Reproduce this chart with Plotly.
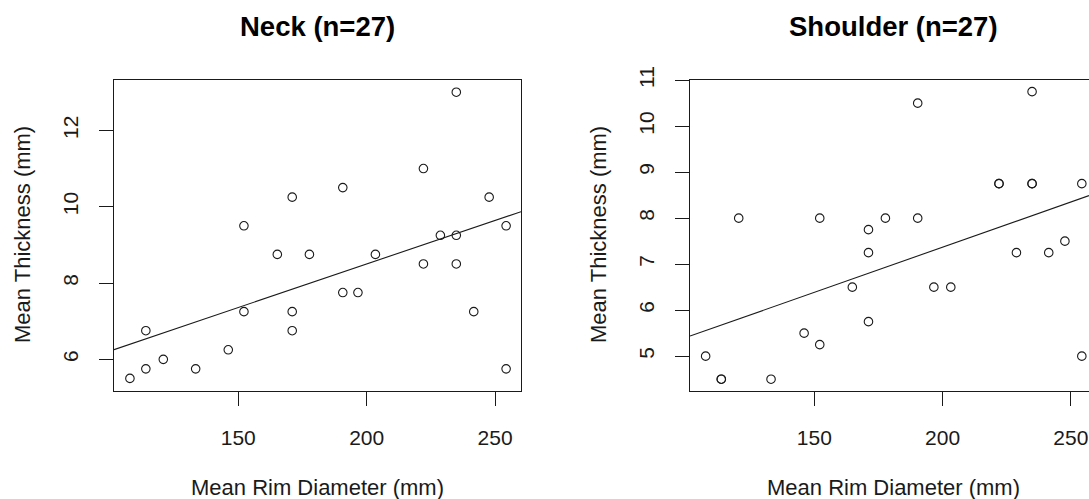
import plotly.graph_objects as go

# ---- data ----
neck_x = [107.8, 114.0, 114.0, 120.8, 133.4, 146.1, 152.2, 152.2, 165.2, 171.0, 171.0, 171.0,
          177.7, 190.7, 190.7, 196.6, 203.4, 222.1, 222.1, 228.7, 234.9, 234.9, 234.9,
          241.7, 247.7, 254.3, 254.3]
neck_y = [5.5, 5.75, 6.75, 6.0, 5.75, 6.25, 9.5, 7.25, 8.75, 10.25, 7.25, 6.75,
          8.75, 10.5, 7.75, 7.75, 8.75, 11.0, 8.5, 9.25, 9.25, 8.5, 13.0,
          7.25, 10.25, 9.5, 5.75]

shoulder_x = [107.6, 113.7, 113.7, 120.5, 133.1, 146.0, 152.1, 152.1, 164.8, 171.1, 171.1, 171.1,
              177.7, 190.3, 190.3, 196.6, 203.2, 222.0, 222.0, 228.8, 234.9, 234.9, 234.9,
              241.4, 247.7, 254.3, 254.3]
shoulder_y = [5.0, 4.5, 4.5, 8.0, 4.5, 5.5, 5.25, 8.0, 6.5, 7.75, 7.25, 5.75,
              8.0, 10.5, 8.0, 6.5, 6.5, 8.75, 8.75, 7.25, 10.75, 8.75, 8.75,
              7.25, 7.5, 8.75, 5.0]

# fitted regression lines (intercept, slope)
neck_fit = [3.937, 0.02281]
shoulder_fit = [3.445, 0.01962]

panel_titles = ["Neck (n=27)", "Shoulder (n=27)"]
x_label = "Mean Rim Diameter (mm)"
y_label = "Mean Thickness (mm)"
x_ticks = [150, 200, 250]
neck_y_ticks = [6, 8, 10, 12]
shoulder_y_ticks = [5, 6, 7, 8, 9, 10, 11]

# ---- layout geometry ----
W, H = 1089, 499
FONT = "Liberation Sans, Arial, sans-serif"
INK = "#1a1a1a"

left_xdom = [114 / W, 521 / W]
right_xdom = [690 / W, 1.0]
ydom = [1 - 391 / H, 1 - 80 / H]

left_xrange = [101.6, 260.1]
left_yrange = [5.17, 13.32]
right_xrange = [101.5, 257.1]
right_yrange = [4.243, 11.003]

fig = go.Figure()


def add_panel(xs, ys, fit, xa, ya, xrange):
    fig.add_trace(go.Scatter(
        x=xs, y=ys, mode="markers", xaxis=xa, yaxis=ya, showlegend=False,
        marker=dict(symbol="circle-open", size=8.5, color=INK, line=dict(width=1.1, color=INK)),
        hoverinfo="skip"))
    lx = list(xrange)
    ly = [fit[0] + fit[1] * v for v in lx]
    fig.add_trace(go.Scatter(
        x=lx, y=ly, mode="lines", xaxis=xa, yaxis=ya, showlegend=False,
        line=dict(color=INK, width=1.1), hoverinfo="skip", cliponaxis=True))


add_panel(neck_x, neck_y, neck_fit, "x", "y", left_xrange)
add_panel(shoulder_x, shoulder_y, shoulder_fit, "x2", "y2", right_xrange)

tickfont = dict(family=FONT, size=21, color=INK)
common_x = dict(showgrid=False, zeroline=False, showline=True, linecolor=INK, linewidth=1,
                ticks="outside", ticklen=14, tickwidth=1, tickcolor=INK, tickfont=tickfont,
                tickvals=x_ticks, ticklabelstandoff=14, automargin=False)
common_y = dict(showgrid=False, zeroline=False, showline=True, linecolor=INK, linewidth=1,
                ticks="outside", ticklen=14, tickwidth=1, tickcolor=INK, tickfont=tickfont,
                tickangle=-90, ticklabelstandoff=13, automargin=False)

fig.update_layout(
    width=W, height=H,
    margin=dict(l=0, r=0, t=0, b=0, pad=0, autoexpand=False),
    paper_bgcolor="white", plot_bgcolor="white",
    xaxis=dict(domain=left_xdom, range=left_xrange, anchor="y", mirror=True, **common_x),
    yaxis=dict(domain=ydom, range=left_yrange, anchor="x", mirror=True,
               tickvals=neck_y_ticks, **common_y),
    xaxis2=dict(domain=right_xdom, range=right_xrange, anchor="y2", mirror=True, **common_x),
    yaxis2=dict(domain=ydom, range=right_yrange, anchor="x2", mirror=False,
                tickvals=shoulder_y_ticks, **common_y),
)

annots = []
centers = [(114 + 521) / 2, (690 + 1097) / 2]
ylab_x = [22, 598]
for i in range(2):
    annots.append(dict(text="<b>" + panel_titles[i] + "</b>", xref="paper", yref="paper",
                       x=centers[i] / W, y=1 - 27 / H, xanchor="center", yanchor="middle",
                       showarrow=False, font=dict(family=FONT, size=27.5, color="black")))
    annots.append(dict(text=x_label, xref="paper", yref="paper",
                       x=centers[i] / W, y=1 - 487 / H, xanchor="center", yanchor="middle",
                       showarrow=False, font=dict(family=FONT, size=22, color=INK)))
    annots.append(dict(text=y_label, xref="paper", yref="paper", textangle=-90,
                       x=ylab_x[i] / W, y=1 - 235 / H, xanchor="center", yanchor="middle",
                       showarrow=False, font=dict(family=FONT, size=22, color=INK)))
fig.update_layout(annotations=annots)

fig.write_html(
    "out.html",
    config={"displayModeBar": False},
    post_script="document.body.style.margin='0';document.body.style.overflow='hidden';",
)
